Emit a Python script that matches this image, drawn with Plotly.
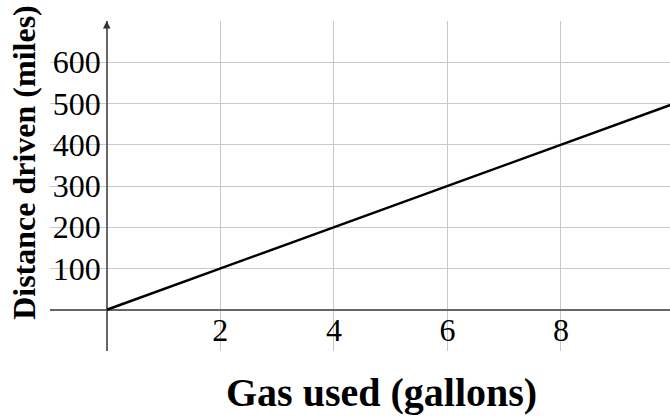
import plotly.graph_objects as go

# Data
gas_used = [0, 10]
distance = [0, 500]
x_ticks = [2, 4, 6, 8]
y_ticks = [100, 200, 300, 400, 500, 600]
x_title = "Gas used (gallons)"
y_title = "Distance driven (miles)"

FONT = "Liberation Serif"
x_range = [-1, 9.92]
y_range = [-100, 700]

fig = go.Figure()
fig.add_trace(go.Scatter(x=gas_used, y=distance, mode="lines",
                         line=dict(color="black", width=2.5), hoverinfo="skip"))

fig.update_layout(
    width=670, height=416,
    margin=dict(l=50, r=0, t=21, b=65),
    paper_bgcolor="white", plot_bgcolor="white",
    showlegend=False,
    font=dict(family=FONT, color="black"),
    xaxis=dict(range=x_range, tickvals=x_ticks, ticktext=[str(v) for v in x_ticks],
               anchor="free", position=(0 - y_range[0]) / (y_range[1] - y_range[0]),
               showgrid=True, gridcolor="#c8c8c8", gridwidth=1,
               zeroline=True, zerolinecolor="#666666", zerolinewidth=2,
               showline=False, ticks="", ticklabelstandoff=-2,
               tickfont=dict(family=FONT, size=32, color="black")),
    yaxis=dict(range=y_range, tickvals=y_ticks, ticktext=[str(v) for v in y_ticks],
               anchor="free", position=(0 - x_range[0]) / (x_range[1] - x_range[0]),
               showgrid=True, gridcolor="#c8c8c8", gridwidth=1,
               zeroline=True, zerolinecolor="#666666", zerolinewidth=2,
               showline=False, ticks="", ticklabelstandoff=6,
               tickfont=dict(family=FONT, size=32, color="black")),
)

fig.add_annotation(xref="paper", yref="paper", x=0.534, y=-0.127,
                   text="<b>%s</b>" % x_title, showarrow=False,
                   xanchor="center", yanchor="middle",
                   font=dict(family=FONT, size=40, color="black"))
fig.add_annotation(xref="paper", yref="paper", x=-0.042, y=0.573,
                   text="<b>%s</b>" % y_title, showarrow=False, textangle=-90,
                   xanchor="center", yanchor="middle",
                   font=dict(family=FONT, size=32, color="black"))
# arrow tip on the vertical axis
fig.add_annotation(x=0, y=y_range[1], xref="x", yref="y", ax=0, ay=8,
                   showarrow=True, arrowhead=2, arrowsize=1, arrowwidth=1.5,
                   arrowcolor="#333333", text="")

fig.write_html("out.html", config={"displayModeBar": False},
               post_script="document.body.style.margin='0';document.body.style.overflow='hidden';")
